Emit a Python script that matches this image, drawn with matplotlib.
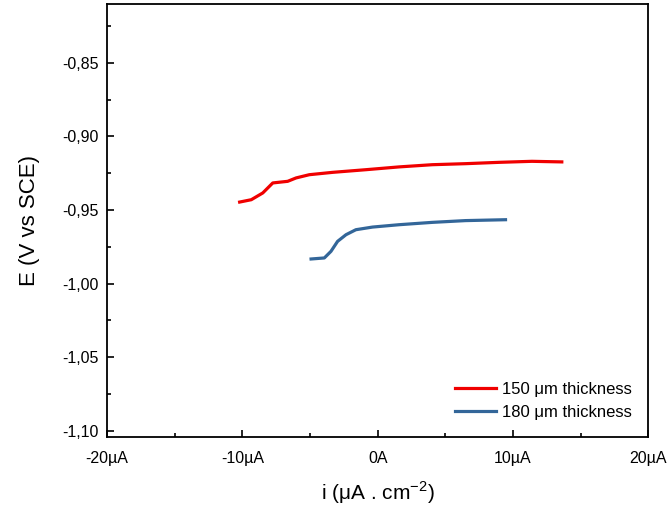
import matplotlib
matplotlib.use("Agg")
import matplotlib.pyplot as plt
from matplotlib.ticker import FuncFormatter, MultipleLocator

plt.rcParams["font.family"] = ["Liberation Sans", "DejaVu Sans"]
plt.rcParams["mathtext.fontset"] = "custom"
plt.rcParams["mathtext.rm"] = "Liberation Sans"
plt.rcParams["axes.unicode_minus"] = False

# current density (uA) and potential (V vs SCE)
i_150 = [-10.20, -9.34, -8.49, -7.75, -6.65, -6.03, -5.05, -3.33, -0.87,
         1.58, 4.04, 6.50, 8.95, 11.40, 13.61]
e_150 = [-0.9446, -0.9430, -0.9384, -0.9316, -0.9305, -0.9282, -0.9260, -0.9244,
         -0.9226, -0.9207, -0.9192, -0.9185, -0.9176, -0.9169, -0.9173]

i_180 = [-4.92, -3.94, -3.45, -2.96, -2.34, -1.61, -0.38, 1.58, 4.04, 6.50, 9.45]
e_180 = [-0.9833, -0.9826, -0.9781, -0.9713, -0.9668, -0.9634, -0.9616,
         -0.9600, -0.9584, -0.9572, -0.9566]

labels = ["150 μm thickness", "180 μm thickness"]
colors = ["#F00000", "#336699"]

fig = plt.figure(figsize=(6.69, 5.09), dpi=100)
ax = fig.add_axes([0.16, 0.1415, 0.809, 0.8505])

ax.plot(i_150, e_150, color=colors[0], lw=2.3, label=labels[0])
ax.plot(i_180, e_180, color=colors[1], lw=2.3, label=labels[1])

ax.set_xlim(-20, 20)
ax.set_ylim(-1.1043, -0.81)

ax.xaxis.set_major_locator(MultipleLocator(10))
ax.xaxis.set_minor_locator(MultipleLocator(5))
ax.yaxis.set_major_locator(MultipleLocator(0.05))
ax.yaxis.set_minor_locator(MultipleLocator(0.025))


def fmt_x(v, pos):
    if abs(v) < 1e-9:
        return "0A"
    return "%dµA" % round(v)


def fmt_y(v, pos):
    return ("%.2f" % v).replace(".", ",")


ax.xaxis.set_major_formatter(FuncFormatter(fmt_x))
ax.yaxis.set_major_formatter(FuncFormatter(fmt_y))

ax.tick_params(which="both", direction="in", width=1.2, labelsize=11.5)
ax.tick_params(which="major", length=5)
ax.tick_params(which="minor", length=3)
ax.tick_params(axis="x", which="major", pad=10)
ax.tick_params(axis="y", which="major", pad=6)
for s in ax.spines.values():
    s.set_linewidth(1.3)

ax.set_xlabel("i (μA . cm$^{\\mathregular{-2}}$)", fontsize=15, labelpad=10)
ax.set_ylabel("E (V vs SCE)", fontsize=16, labelpad=16)

ax.legend(loc="lower right", frameon=False, fontsize=12, handlelength=2.45,
          handletextpad=0.35, labelspacing=0.5, borderaxespad=0.6)

fig.savefig("out.png", dpi=100)
